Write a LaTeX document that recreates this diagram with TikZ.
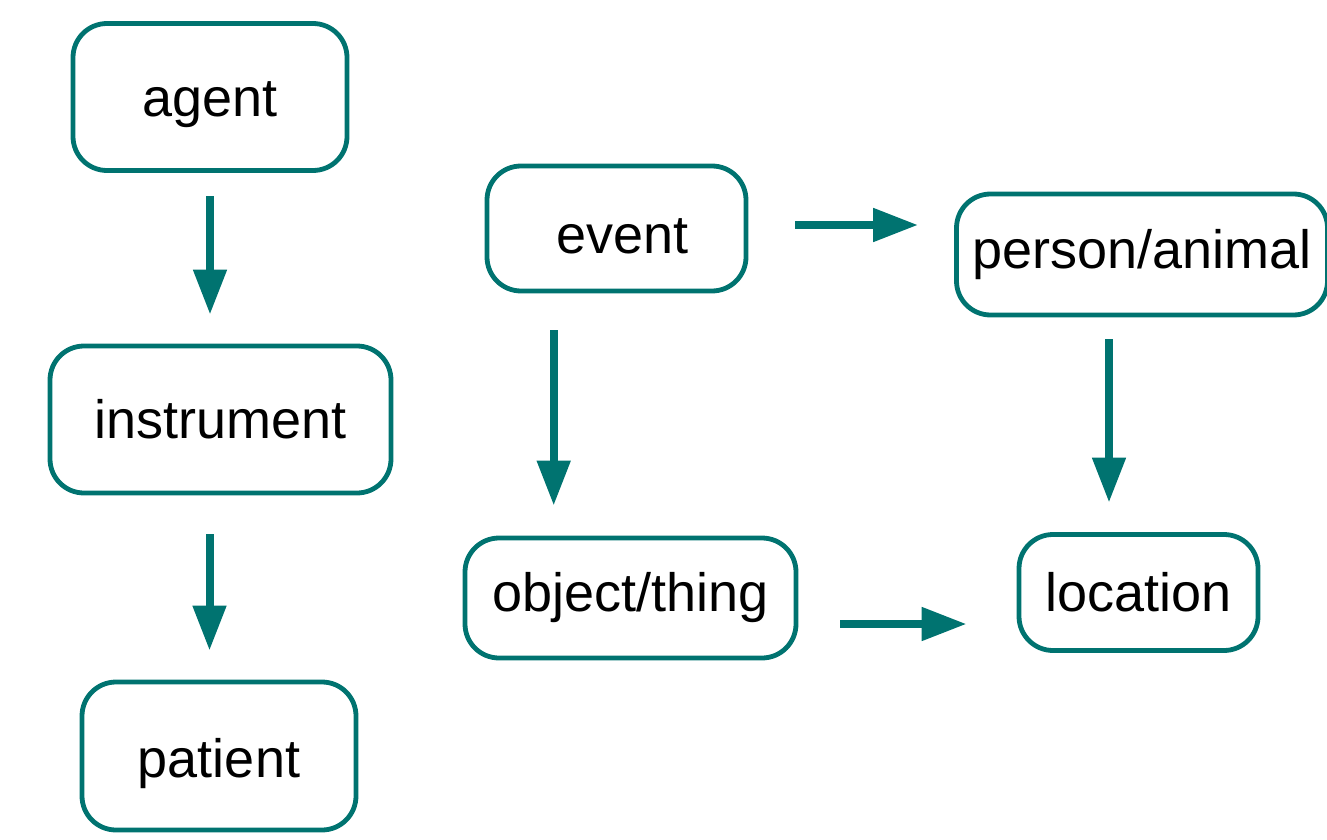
\documentclass[tikz,border=0pt]{standalone}
\usepackage{fontspec}
\setsansfont{Liberation Sans}
\RequirePackage{xcolor}
\definecolor{roleteal}{RGB}{0,115,112}
\tikzset{every picture/.style={/utils/exec={\sffamily}}}
\usetikzlibrary{calc}
\usetikzlibrary{positioning}
\usetikzlibrary{arrows.meta}

% lower a label inside its box, keeping the box size
\newcommand{\lowered}[1]{\raisebox{-4pt}[\height][\depth]{#1}}

\begin{document}
\begin{tikzpicture}[x=0.5pt, y=-0.5pt,
  role/.style={draw=roleteal, line width=2.4pt, rounded corners=17pt,
    inner sep=0pt, font=\fontsize{27}{32}\selectfont},
  link/.style={draw=roleteal, line width=4pt,
    -{Triangle[length=22.5pt, width=16pt]}}]

  \useasboundingbox (0,0) rectangle (1327,840);

  % left column
  \node [role, minimum width=137pt, minimum height=73.5pt] (ag) at (210,97) {\lowered{agent}};
  \node [role, minimum width=170.5pt, minimum height=73.5pt] (instr) at (220.5,419.5) {instrument};
  \node [role, minimum width=137pt, minimum height=74pt] (pat) at (219,756) {\lowered{patient}};

  % right part
  \node [role, minimum width=129.5pt, minimum height=62.5pt] (ev) at (616.5,228.5) {\lowered{\hspace*{6pt}event}};
  \node [role, minimum width=185.5pt, minimum height=60.5pt] (pers) at (1142,254.5) {person/animal};
  \node [role, minimum width=165.5pt, minimum height=60pt] (obj) at (630.5,598) {object/thing};
  \node [role, minimum width=119.5pt, minimum height=58pt] (loc) at (1138.5,592.5) {location};

  % arrows, they stop short of the boxes
  \draw [link, shorten <=11.75pt, shorten >=14.5pt] (ag.south) -- (ag.south |- instr.north);
  \draw [link, shorten <=19.3pt, shorten >=14.5pt] ([xshift=-5.5pt]instr.south) -- ([xshift=-5.5pt]instr.south |- pat.north);
  \draw [link, shorten <=18.5pt, shorten >=15pt] ([xshift=-31.4pt]ev.south) -- ([xshift=-31.4pt]ev.south |- obj.north);
  \draw [link, shorten <=23.5pt, shorten >=18pt] ([yshift=1.75pt]ev.east) -- ([yshift=1.75pt]ev.east -| pers.west);
  \draw [link, shorten <=11pt, shorten >=14.75pt] ([xshift=-16.5pt]pers.south) -- ([xshift=-16.5pt]pers.south |- loc.north);
  \draw [link, shorten <=21pt, shorten >=25pt] ([yshift=-13pt]obj.east) -- ([yshift=-13pt]obj.east -| loc.west);

\end{tikzpicture}
\end{document}
